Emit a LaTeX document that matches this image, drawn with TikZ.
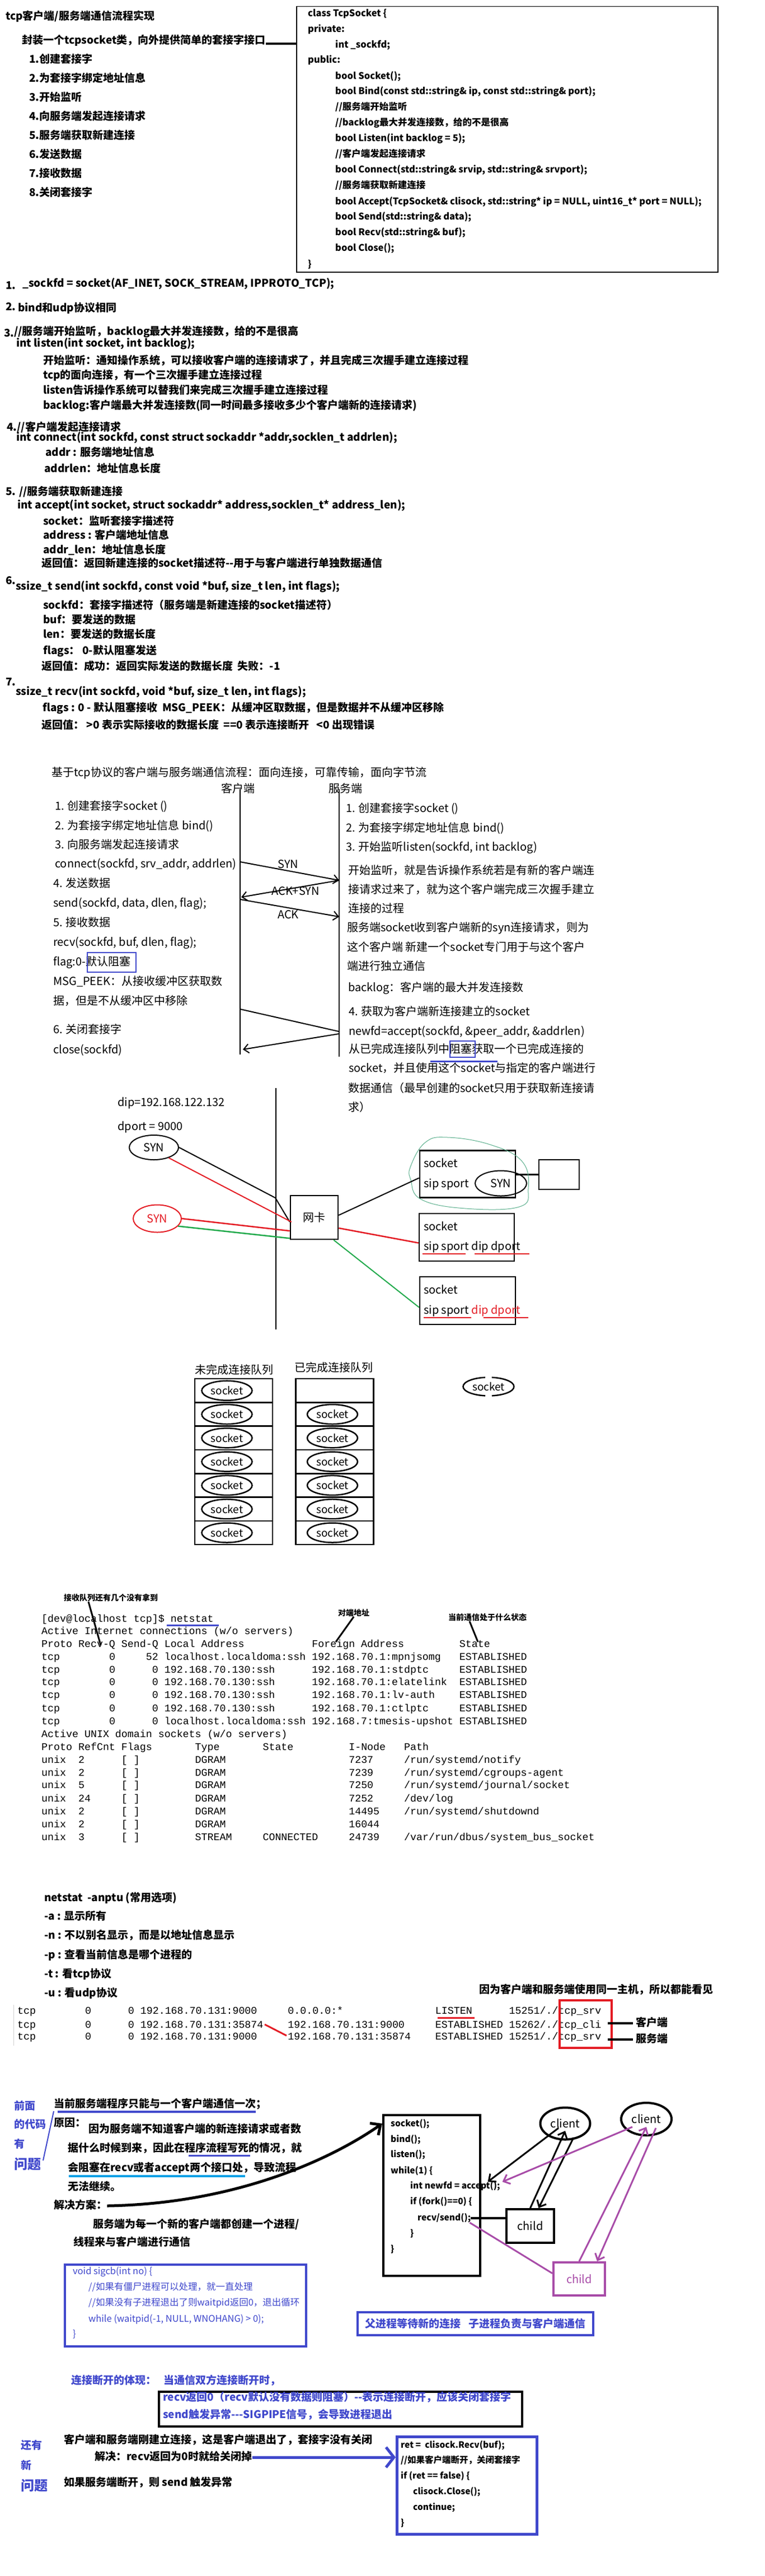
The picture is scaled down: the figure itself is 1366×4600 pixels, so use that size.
\documentclass[tikz,border=0pt]{standalone}
\usepackage{fontspec}
\setmainfont{Noto Sans CJK SC}
\setmonofont{Liberation Mono}
\usetikzlibrary{arrows.meta,shapes.geometric,positioning}
\definecolor{myblue}{RGB}{64,72,204}
\definecolor{mypurple}{RGB}{168,76,168}
\definecolor{myred}{RGB}{228,28,36}
\definecolor{mygreen}{RGB}{34,170,76}
\definecolor{mycyan}{RGB}{0,160,230}
\definecolor{blobgreen}{RGB}{90,175,140}
\newcommand\sk[1]{\hspace*{#1\fontcharwd\font`0}}

\begin{document}
\begin{tikzpicture}[x=1pt,y=-1pt,
  note/.style={anchor=west,inner sep=0pt,text height=15pt,text depth=4pt,font=\bfseries\fontsize{19}{22}\selectfont},
  cls/.style={anchor=west,inner sep=0pt,text height=13pt,text depth=3.5pt,font=\bfseries\fontsize{16.5}{20}\selectfont},
  code/.style={anchor=west,inner sep=0pt,text height=12pt,text depth=3.5pt,font=\bfseries\fontsize{15.5}{18}\selectfont},
  sig/.style={anchor=west,inner sep=0pt,text height=13pt,text depth=3.5pt,text=myblue,font=\fontsize{16.5}{20}\selectfont},
  shot/.style={anchor=west,inner sep=0pt,text height=16pt,text depth=4pt,font=\fontsize{20}{24}\selectfont},
  term/.style={anchor=west,inner sep=0pt,text height=13pt,text depth=4pt,font=\ttfamily\fontsize{18.3}{22}\selectfont},
  ann/.style={anchor=west,inner sep=0pt,font=\bfseries\fontsize{14}{16}\selectfont},
  bluenote/.style={note,text=myblue},
  syn/.style={draw,ellipse,line width=2pt,minimum width=88pt,minimum height=44pt,inner sep=0pt,font=\fontsize{20}{22}\selectfont},
  sockbox/.style={draw,line width=2.5pt,minimum width=171pt,minimum height=84pt,inner sep=0pt},
  cell/.style={draw,line width=2.5pt,minimum width=139pt,minimum height=42.3pt,inner sep=0pt,outer sep=0pt},
  sockell/.style={draw,ellipse,line width=2.5pt,minimum width=90pt,minimum height=35pt,inner sep=0pt,font=\fontsize{19}{20}\selectfont},
  msg/.style={line width=2pt,-{Straight Barb[length=9pt,width=16pt]}},
  ptr/.style={line width=3pt},
  fat/.style={line width=4pt},
  ring/.style={draw,ellipse,line width=4pt,minimum width=89pt,minimum height=57pt,inner sep=0pt,font=\fontsize{20}{22}\selectfont},
  kid/.style={draw,line width=4pt,minimum width=85pt,minimum height=60pt,inner sep=0pt,font=\fontsize{20}{22}\selectfont},
  hand/.style={line width=3pt,-{Straight Barb[length=10pt,width=18pt]}},
]
\fill[white] (0,0) rectangle (1366,4600);
\useasboundingbox (0,0) rectangle (1366,4600);

\node[note] (title) at (10,30) {tcp客户端/服务端通信流程实现};
\node[note] (wrap) at (39,73) {封装一个tcpsocket类，向外提供简单的套接字接口};
\node[note] (st1) at (52,107) {1.创建套接字};
\node[note] (st2) at (52,141) {2.为套接字绑定地址信息};
\node[note] (st3) at (52,175) {3.开始监听};
\node[note] (st4) at (52,209) {4.向服务端发起连接请求};
\node[note] (st5) at (52,243) {5.服务端获取新建连接};
\node[note] (st6) at (52,277) {6.发送数据};
\node[note] (st7) at (52,311) {7.接收数据};
\node[note] (st8) at (52,345) {8.关闭套接字};

\node[draw,line width=1.5pt,minimum width=753pt,minimum height=474pt,inner sep=0pt,anchor=north west] (clsbox) at (529,11) {};
\coordinate (wrapend) at ([yshift=-5pt]wrap.east);
\draw[fat] (wrapend) -- (wrapend -| clsbox.west);
\node[cls] (c1) at (550,25) {class TcpSocket \{};
\node[cls] (c2) at (550,53) {private:};
\node[cls] (c3) at (599,81) {int \_sockfd;};
\node[cls] (c4) at (550,108) {public:};
\node[cls] (c5) at (599,137) {bool Socket();};
\node[cls] (c6) at (599,164) {bool Bind(const std::string\& ip, const std::string\& port);};
\node[cls] (c7) at (599,192) {//服务端开始监听};
\node[cls] (c8) at (599,220) {//backlog最大并发连接数，给的不是很高};
\node[cls] (c9) at (599,248) {bool Listen(int backlog = 5);};
\node[cls] (c10) at (599,276) {//客户端发起连接请求};
\node[cls] (c11) at (599,304) {bool Connect(std::string\& srvip, std::string\& srvport);};
\node[cls] (c12) at (599,332) {//服务端获取新建连接};
\node[cls] (c13) at (599,361) {bool Accept(TcpSocket\& clisock, std::string* ip = NULL, uint16\_t* port = NULL);};
\node[cls] (c14) at (599,388) {bool Send(std::string\& data);};
\node[cls] (c15) at (599,416) {bool Recv(std::string\& buf);};
\node[cls] (c16) at (599,444) {bool Close();};
\node[cls] (c17) at (550,473) {\}};

\node[note] (n1) at (10,511) {1.};
\node[note] (b1) at (40,507) {\_sockfd = socket(AF\_INET, SOCK\_STREAM, IPPROTO\_TCP);};
\node[note] (n2) at (10,549) {2.};
\node[note] (b2) at (32,551) {bind和udp协议相同};
\node[note] (n3) at (7,596) {3.};
\node[note] (b3) at (25,593) {//服务端开始监听，backlog最大并发连接数，给的不是很高};
\node[note] (b4) at (29,614) {int listen(int socket, int backlog);};
\node[note] (b5) at (77,645) {开始监听：通知操作系统，可以接收客户端的连接请求了，并且完成三次握手建立连接过程};
\node[note] (b6) at (77,671) {tcp的面向连接，有一个三次握手建立连接过程};
\node[note] (b7) at (77,698) {listen告诉操作系统可以替我们来完成三次握手建立连接过程};
\node[note] (b8) at (77,725) {backlog:客户端最大并发连接数(同一时间最多接收多少个客户端新的连接请求)};
\node[note] (b9) at (12,764) {4.//客户端发起连接请求};
\node[note] (b10) at (29,782) {int connect(int sockfd, const struct sockaddr *addr,socklen\_t addrlen);};
\node[note] (b11) at (81,809) {addr : 服务端地址信息};
\node[note] (b12) at (79,838) {addrlen：地址信息长度};
\node[note] (b13) at (10,879) {5. //服务端获取新建连接};
\node[note] (b14) at (31,903) {int accept(int socket, struct sockaddr* address,socklen\_t* address\_len);};
\node[note] (b15) at (77,932) {socket：监听套接字描述符};
\node[note] (b16) at (77,957) {address : 客户端地址信息};
\node[note] (b17) at (77,983) {addr\_len：地址信息长度};
\node[note] (b18) at (74,1007) {返回值：返回新建连接的socket描述符-{}-用于与客户端进行单独数据通信};
\node[note] (n6) at (10,1038) {6.};
\node[note] (b19) at (28,1048) {ssize\_t send(int sockfd, const void *buf, size\_t len, int flags);};
\node[note] (b20) at (77,1082) {sockfd：套接字描述符（服务端是新建连接的socket描述符）};
\node[note] (b21) at (77,1108) {buf：要发送的数据};
\node[note] (b22) at (77,1134) {len：要发送的数据长度};
\node[note] (b23) at (77,1163) {flags： 0-默认阻塞发送};
\node[note] (b24) at (74,1191) {返回值：成功：返回实际发送的数据长度\ \ 失败：-1};
\node[note] (n7) at (10,1219) {7.};
\node[note] (b25) at (28,1236) {ssize\_t recv(int sockfd, void *buf, size\_t len, int flags);};
\node[note] (b26) at (76,1265) {flags : 0 - 默认阻塞接收\ \ MSG\_PEEK：从缓冲区取数据，但是数据并不从缓冲区移除};
\node[note] (b27) at (74,1296) {返回值：\ >0 表示实际接收的数据长度\ \ ==0 表示连接断开\ \ \ <0 出现错误};

\node[shot] (flow) at (92,1380) {基于tcp协议的客户端与服务端通信流程：面向连接，可靠传输，面向字节流};
\node[shot,anchor=center] (clilab) at (425,1409) {客户端};
\node[shot,anchor=center] (srvlab) at (617,1409) {服务端};
\coordinate (clibot) at (429,1883);
\coordinate (srvbot) at (606,1887);
\draw[line width=2pt] (clilab.center -| clibot) -- (clibot);
\draw[line width=2pt] (srvlab.center -| srvbot) -- (srvbot);
\node[shot] (l1) at (98,1440) {1. 创建套接字socket ()};
\node[shot] (l2) at (98,1475) {2. 为套接字绑定地址信息 bind()};
\node[shot] (l3) at (98,1509) {3. 向服务端发起连接请求};
\node[shot] (l4) at (98,1543) {connect(sockfd, srv\_addr, addrlen)};
\node[shot] (l5) at (95,1578) {4. 发送数据};
\node[shot] (l6) at (95,1613) {send(sockfd, data, dlen, flag);};
\node[shot] (l7) at (95,1648) {5. 接收数据};
\node[shot] (l8) at (95,1683) {recv(sockfd, buf, dlen, flag);};
\node[shot] (l9) at (95,1718) {flag:0-默认阻塞};
\node[shot] (l10) at (95,1753) {MSG\_PEEK：从接收缓冲区获取数};
\node[shot] (l11) at (95,1788) {据，但是不从缓冲区中移除};
\node[shot] (l12) at (95,1839) {6. 关闭套接字};
\node[shot] (l13) at (95,1875) {close(sockfd)};
\draw[myblue,line width=2.5pt] (156,1701) rectangle (243,1736);
\node[shot] (r1) at (618,1444) {1. 创建套接字socket ()};
\node[shot] (r2) at (618,1479) {2. 为套接字绑定地址信息 bind()};
\node[shot] (r3) at (618,1513) {3. 开始监听listen(sockfd, int backlog)};
\node[shot] (r4) at (622,1555) {开始监听，就是告诉操作系统若是有新的客户端连};
\node[shot] (r5) at (622,1589) {接请求过来了，就为这个客户端完成三次握手建立};
\node[shot] (r6) at (622,1623) {连接的过程};
\node[shot] (r7) at (620,1657) {服务端socket收到客户端新的syn连接请求，则为};
\node[shot] (r8) at (620,1692) {这个客户端 新建一个socket专门用于与这个客户};
\node[shot] (r9) at (620,1726) {端进行独立通信};
\node[shot] (r10) at (622,1764) {backlog：客户端的最大并发连接数};
\node[shot] (r11) at (623,1807) {4. 获取为客户端新连接建立的socket};
\node[shot] (r12) at (623,1842) {newfd=accept(sockfd, \&peer\_addr, \&addrlen)};
\node[shot] (r13) at (623,1874) {从已完成连接队列中阻塞获取一个已完成连接的};
\node[shot] (r14) at (623,1908) {socket，并且使用这个socket与指定的客户端进行};
\node[shot] (r15) at (622,1944) {数据通信（最早创建的socket只用于获取新连接请};
\node[shot] (r16) at (622,1978) {求）};
\draw[myblue,line width=2.5pt] (804,1859) rectangle (849,1888);
\draw[myblue,line width=3pt] (769,1895) -- (889,1895);
\coordinate (cs1) at (429,1539);
\coordinate (ss1) at (606,1572);
\coordinate (cs2) at (431,1602);
\coordinate (cs3) at (429,1606);
\coordinate (ss3) at (606,1637);
\coordinate (cs4) at (429,1802);
\coordinate (ss4) at (606,1842);
\coordinate (ss5) at (606,1846);
\coordinate (cs5) at (434,1874);
\draw[msg] (cs1) -- (ss1);
\draw[msg] (ss1) -- (cs2);
\draw[msg] (cs3) -- (ss3);
\draw[line width=2pt] (cs4) -- (ss4);
\draw[msg] (ss5) -- (cs5);
\node[shot,anchor=center] (synlab) at (515,1544) {SYN};
\node[shot,anchor=center] (acklab1) at (528,1592) {ACK+SYN};
\node[shot,anchor=center] (acklab2) at (515,1634) {ACK};

\node[shot] (dip) at (210,1969) {dip=192.168.122.132};
\node[shot] (dport) at (210,2012) {dport = 9000};
\coordinate (wiretop) at (493,1943);
\coordinate (wirebot) at (493,2374);
\draw[line width=2pt] (wiretop) -- (wirebot);
\node[syn] (synA) at (275,2049) {SYN};
\node[syn,draw=myred,text=myred,minimum width=86pt,minimum height=49pt] (synB) at (281,2176) {SYN};
\node[draw,line width=2.5pt,minimum width=85pt,minimum height=78pt,font=\fontsize{20}{22}\selectfont] (nic) at (561.5,2174) {网卡};
\node[sockbox] (sock1) at (835.5,2096.5) {};
\node[shot] (s1a) at (757,2078) {socket};
\node[shot] (s1b) at (757,2114) {sip sport};
\node[syn,minimum width=92pt,minimum height=45pt] (synC) at (895,2113) {SYN};
\node[draw,line width=2.5pt,minimum width=72pt,minimum height=53pt] (extra) at (999,2097.5) {};
\draw[line width=3pt] (sock1.east |- extra.west) -- (extra.west);
\draw[blobgreen,line width=1pt] plot[smooth cycle,tension=0.7] coordinates {(734,2082) (760,2040) (800,2031) (876,2044) (933,2074) (944,2123) (928,2155) (832,2158) (753,2142) (734,2107)};
\node[sockbox,minimum width=170pt,minimum height=85pt] (sock2) at (834,2209.5) {};
\node[shot] (s2a) at (757,2191) {socket};
\node[shot] (s2b) at (757,2226) {sip sport dip dport};
\draw[myred,line width=2pt] (755,2239) -- (832,2239);
\draw[myred,line width=2pt] (848,2239) -- (946,2239);
\node[sockbox,minimum height=85pt] (sock3) at (835.5,2322.5) {};
\node[shot] (s3a) at (757,2304) {socket};
\node[shot] (s3b) at (757,2340) {sip sport \textcolor{myred}{dip dport}};
\draw[myred,line width=2pt] (757,2353) -- (842,2353);
\draw[myred,line width=2pt] (864,2353) -- (944,2353);
\coordinate (bend) at (492,2139);
\draw[line width=2pt] (synA.east) -- (bend) -- ([yshift=-8pt]nic.west);
\draw[myred,line width=2pt] (synA.-35) -- ([xshift=3pt,yshift=-8pt]nic.west);
\draw[myred,line width=2.5pt] (synB.east) -- ([yshift=-24pt]nic.west);
\draw[mygreen,line width=2.5pt] (synB.-20) -- ([yshift=3pt]nic.south west);
\draw[line width=2pt] ([yshift=4pt]nic.east) -- ([yshift=-7pt]sock1.west);
\draw[myred,line width=2.5pt] ([yshift=-19pt]nic.east) -- ([yshift=-10pt]sock2.west);
\draw[mygreen,line width=2pt] ([xshift=-9pt]nic.south east) -- ([yshift=-12pt]sock3.west);

\node[shot,anchor=center] (qalab) at (418,2447) {未完成连接队列};
\node[shot,anchor=center] (qblab) at (596,2443) {已完成连接队列};
\node[cell] (qa1) at (417.5,2483.2) {};
\node[cell,below=0pt of qa1] (qa2) {};
\node[cell,below=0pt of qa2] (qa3) {};
\node[cell,below=0pt of qa3] (qa4) {};
\node[cell,below=0pt of qa4] (qa5) {};
\node[cell,below=0pt of qa5] (qa6) {};
\node[cell,below=0pt of qa6] (qa7) {};
\node[cell] (qb1) at (598,2483.2) {};
\node[cell,below=0pt of qb1] (qb2) {};
\node[cell,below=0pt of qb2] (qb3) {};
\node[cell,below=0pt of qb3] (qb4) {};
\node[cell,below=0pt of qb4] (qb5) {};
\node[cell,below=0pt of qb5] (qb6) {};
\node[cell,below=0pt of qb6] (qb7) {};
\node[sockell] (ka1) at ([xshift=-12pt]qa1.center) {socket};
\node[sockell] (ka2) at ([xshift=-12pt]qa2.center) {socket};
\node[sockell] (ka3) at ([xshift=-12pt]qa3.center) {socket};
\node[sockell] (ka4) at ([xshift=-12pt]qa4.center) {socket};
\node[sockell] (ka5) at ([xshift=-12pt]qa5.center) {socket};
\node[sockell] (ka6) at ([xshift=-12pt]qa6.center) {socket};
\node[sockell] (ka7) at ([xshift=-12pt]qa7.center) {socket};
\node[sockell] (kb2) at ([xshift=-4pt]qb2.center) {socket};
\node[sockell] (kb3) at ([xshift=-4pt]qb3.center) {socket};
\node[sockell] (kb4) at ([xshift=-4pt]qb4.center) {socket};
\node[sockell] (kb5) at ([xshift=-4pt]qb5.center) {socket};
\node[sockell] (kb6) at ([xshift=-4pt]qb6.center) {socket};
\node[sockell] (kb7) at ([xshift=-4pt]qb7.center) {socket};
\node[sockell,minimum width=91pt,minimum height=33pt,dash pattern=on 90.8pt off 12pt,dash phase=45.4pt] (lone) at (873,2476) {socket};

\node[ann] (ann1) at (114,2853) {接收队列还有几个没有拿到};
\node[ann] (ann2) at (604,2880) {对端地址};
\node[ann] (ann3) at (801,2888) {当前通信处于什么状态};
\coordinate (p1) at (180,2938);
\coordinate (p2) at (600,2932);
\coordinate (p3) at (854,2932);
\draw[ptr] ([xshift=44pt]ann1.south west) -- (p1);
\draw[ptr] (ann2.south) -- (p2);
\draw[ptr] ([xshift=38pt]ann3.south west) -- (p3);
\node[term] (ns0) at (74,2892) {[dev@localhost tcp]\$ netstat};
\draw[myblue,line width=3pt] (298,2902) -- (391,2902);
\node[term] (ns1) at (74,2914) {Active Internet connections (w/o servers)};
\node[term] (ns2) at (74,2937) {Proto Recv-Q Send-Q Local Address\sk{11}Foreign Address\sk{9}State};
\node[term] (ns3) at (74,2960) {tcp\sk{8}0\sk{5}52 localhost.localdoma:ssh 192.168.70.1:mpnjsomg\sk{3}ESTABLISHED};
\node[term] (ns4) at (74,2983) {tcp\sk{8}0\sk{6}0 192.168.70.130:ssh\sk{6}192.168.70.1:stdptc\sk{5}ESTABLISHED};
\node[term] (ns5) at (74,3005) {tcp\sk{8}0\sk{6}0 192.168.70.130:ssh\sk{6}192.168.70.1:elatelink\sk{2}ESTABLISHED};
\node[term] (ns6) at (74,3028) {tcp\sk{8}0\sk{6}0 192.168.70.130:ssh\sk{6}192.168.70.1:lv-auth\sk{4}ESTABLISHED};
\node[term] (ns7) at (74,3052) {tcp\sk{8}0\sk{6}0 192.168.70.130:ssh\sk{6}192.168.70.1:ctlptc\sk{5}ESTABLISHED};
\node[term] (ns8) at (74,3075) {tcp\sk{8}0\sk{6}0 localhost.localdoma:ssh 192.168.7:tmesis-upshot ESTABLISHED};
\node[term] (ns9) at (74,3098) {Active UNIX domain sockets (w/o servers)};
\node[term] (ns10) at (74,3121) {Proto RefCnt Flags\sk{7}Type\sk{7}State\sk{9}I-Node\sk{3}Path};
\node[term] (ns11) at (74,3144) {unix\sk{2}2\sk{6}[ ]\sk{9}DGRAM\sk{20}7237\sk{5}/run/systemd/notify};
\node[term] (ns12) at (74,3167) {unix\sk{2}2\sk{6}[ ]\sk{9}DGRAM\sk{20}7239\sk{5}/run/systemd/cgroups-agent};
\node[term] (ns13) at (74,3189) {unix\sk{2}5\sk{6}[ ]\sk{9}DGRAM\sk{20}7250\sk{5}/run/systemd/journal/socket};
\node[term] (ns14) at (74,3213) {unix\sk{2}24\sk{5}[ ]\sk{9}DGRAM\sk{20}7252\sk{5}/dev/log};
\node[term] (ns15) at (74,3236) {unix\sk{2}2\sk{6}[ ]\sk{9}DGRAM\sk{20}14495\sk{4}/run/systemd/shutdownd};
\node[term] (ns16) at (74,3259) {unix\sk{2}2\sk{6}[ ]\sk{9}DGRAM\sk{20}16044};
\node[term] (ns17) at (74,3282) {unix\sk{2}3\sk{6}[ ]\sk{9}STREAM\sk{5}CONNECTED\sk{5}24739\sk{4}/var/run/dbus/system\_bus\_socket};

\node[note] (opt0) at (79,3390) {netstat\ \ -anptu (常用选项)};
\node[note] (opt1) at (79,3423) {-a : 显示所有};
\node[note] (opt2) at (79,3457) {-n : 不以别名显示，而是以地址信息显示};
\node[note] (opt3) at (79,3492) {-p : 查看当前信息是哪个进程的};
\node[note] (opt4) at (79,3526) {-t : 看tcp协议};
\node[note] (opt5) at (79,3560) {-u : 看udp协议};
\node[note] (same) at (856,3554) {因为客户端和服务端使用同一主机，所以都能看见};
\draw[gray!35,line width=1pt] (24,3580) -- (24,3653);
\node[term] (tp1) at (31,3592) {tcp\sk{8}0\sk{6}0 192.168.70.131:9000\sk{5}0.0.0.0:*\sk{15}LISTEN\sk{6}15251/./tcp\_srv};
\node[term] (tp2) at (31,3617) {tcp\sk{8}0\sk{6}0 192.168.70.131:35874\sk{4}192.168.70.131:9000\sk{5}ESTABLISHED 15262/./tcp\_cli};
\node[term] (tp3) at (31,3638) {tcp\sk{8}0\sk{6}0 192.168.70.131:9000\sk{5}192.168.70.131:35874\sk{4}ESTABLISHED 15251/./tcp\_srv};
\draw[myred,line width=3pt] (782,3603) -- (848,3603);
\draw[myred,line width=3pt] (473,3615) -- (512,3635);
\node[draw=myred,line width=4pt,minimum width=93pt,minimum height=85pt,inner sep=0pt] (srvbox) at (1046.5,3614.5) {};
\node[note] (kh) at (1136,3613) {客户端};
\node[note] (fw) at (1136,3642) {服务端};
\draw[fat] ([xshift=-50pt]kh.west) -- ([xshift=-5pt]kh.west);
\draw[fat] ([xshift=-50pt]fw.west) -- ([xshift=-5pt]fw.west);

\node[bluenote] (q1) at (25,3762) {前面};
\node[bluenote] (q2) at (25,3795) {的代码};
\node[bluenote] (q3) at (25,3830) {有};
\node[bluenote,font=\bfseries\fontsize{24}{26}\selectfont] (q4) at (25,3868) {问题};
\draw[myblue,line width=2pt] (96,3770) -- (77,3858);
\node[note] (now) at (96,3758) {当前服务端程序只能与一个客户端通信一次；};
\draw[myblue,line width=4pt] (103,3771) -- (457,3771);
\node[note] (why) at (96,3792) {原因：};
\node[note] (g1) at (158,3803) {因为服务端不知道客户端的新连接请求或者数};
\node[note] (g2) at (121,3837) {据什么时候到来，因此在程序流程写死的情况，就};
\node[note] (g3) at (121,3872) {会阻塞在recv或者accept两个接口处，导致流程};
\node[note] (g4) at (121,3906) {无法继续。};
\draw[myblue,line width=3pt] (337,3849) -- (447,3849);
\draw[mycyan,line width=4pt] (123,3886) -- (438,3886);
\node[note] (solve) at (96,3939) {解决方案：};
\node[note] (g5) at (166,3973) {服务端为每一个新的客户端都创建一个进程/};
\node[note] (g6) at (131,4005) {线程来与客户端进行通信};
\node[draw,line width=4pt,minimum width=173pt,minimum height=287pt,inner sep=0pt,anchor=north west] (codebox) at (683,3775) {};
\draw[line width=5pt,-{Straight Barb[length=14pt,width=26pt]}] (solve.east) .. controls (430,3935) and (600,3850) .. ([yshift=-17pt]codebox.north west);
\node[code] (k1) at (698,3793) {socket();};
\node[code] (k2) at (698,3821) {bind();};
\node[code] (k3) at (698,3848) {listen();};
\node[code] (k4) at (698,3877) {while(1) \{};
\node[code] (acc) at (733,3904) {int newfd = accept();};
\node[code] (k6) at (733,3932) {if (fork()==0) \{};
\node[code] (rs) at (746,3961) {recv/send();};
\node[code] (k8) at (733,3989) {\}};
\node[code] (k9) at (698,4017) {\}};
\node[kid] (child) at (947.5,3975) {child};
\node[kid,draw=mypurple,text=mypurple,minimum width=92pt,minimum height=59pt] (child2) at (1035,4069.5) {child};
\node[ring] (client1) at (1010,3792) {client};
\node[ring,minimum width=90pt,minimum height=58pt] (client2) at (1155,3784) {client};
\draw[fat] (rs.east) -- (rs.east -| child.west);
\draw[hand] ([shift={(-12pt,-8pt)}]client1.center) -- ([xshift=-22pt]acc.north east);
\draw[hand] (child.north) -- ([yshift=-13pt]client1.center);
\draw[hand] ([shift={(15pt,-25pt)}]client1.center) -- ([xshift=15pt]child.north);
\draw[hand,mypurple] ([shift={(-25pt,-14pt)}]client2.center) -- ([xshift=4pt]acc.north east);
\draw[mypurple,line width=3pt] ([xshift=-2pt]rs.south east) -- ([yshift=10pt]child2.west);
\draw[hand,mypurple] (child2.north) -- ([yshift=-14pt]client2.center);
\draw[hand,mypurple] ([shift={(17pt,-16pt)}]client2.center) -- ([xshift=32pt]child2.north);
\node[draw=myblue,line width=4pt,minimum width=431pt,minimum height=146pt,inner sep=0pt,anchor=north west] (sigbox) at (114,4042) {};
\node[sig] (h1) at (130,4057) {void sigcb(int no) \{};
\node[sig] (h2) at (158,4085) {//如果有僵尸进程可以处理，就一直处理};
\node[sig] (h3) at (158,4113) {//如果没有子进程退出了则waitpid返回0，退出循环};
\node[sig] (h4) at (158,4142) {while (waitpid(-1, NULL, WNOHANG) > 0);};
\node[sig] (h5) at (130,4169) {\}};
\node[draw=myblue,text=myblue,line width=4pt,minimum width=421pt,minimum height=41pt,inner sep=0pt,font=\bfseries\fontsize{19}{22}\selectfont] (roles) at (849.5,4149.5) {父进程等待新的连接\ \ \ 子进程负责与客户端通信};

\node[bluenote] (dc1) at (127,4252) {连接断开的体现：};
\node[bluenote] (dc2) at (292,4252) {当通信双方连接断开时，};
\node[draw,line width=4pt,minimum width=649pt,minimum height=62pt,inner sep=0pt,anchor=north west] (dcbox) at (282,4269) {};
\node[bluenote] (dc3) at (291,4282) {recv返回0（recv默认没有数据则阻塞）-{}-表示连接断开，应该关闭套接字};
\node[bluenote] (dc4) at (291,4313) {send触发异常-{}-{}-SIGPIPE信号，会导致进程退出};
\node[bluenote] (w1) at (37,4368) {还有};
\node[bluenote] (w2) at (37,4404) {新};
\node[bluenote,font=\bfseries\fontsize{24}{26}\selectfont] (w3) at (37,4442) {问题};
\node[note] (quit) at (114,4358) {客户端和服务端刚建立连接，这是客户端退出了，套接字没有关闭};
\node[note] (fix) at (169,4388) {解决：recv返回为0时就给关闭掉};
\node[note] (srvdown) at (114,4434) {如果服务端断开，则 send 触发异常};
\node[draw=myblue,line width=5pt,minimum width=250pt,minimum height=174pt,inner sep=0pt,anchor=north west] (retbox) at (707,4349) {};
\draw[myblue,line width=5pt,-{Straight Barb[length=14pt,width=36pt]}] (fix.east) -- (retbox.west |- fix.east);
\node[code] (e1) at (716,4367) {ret =\ \ clisock.Recv(buf);};
\node[code] (e2) at (716,4394) {//如果客户端断开，关闭套接字};
\node[code] (e3) at (716,4422) {if (ret == false) \{};
\node[code] (e4) at (738,4450) {clisock.Close();};
\node[code] (e5) at (738,4478) {continue;};
\node[code] (e6) at (716,4506) {\}};
\end{tikzpicture}
\end{document}
